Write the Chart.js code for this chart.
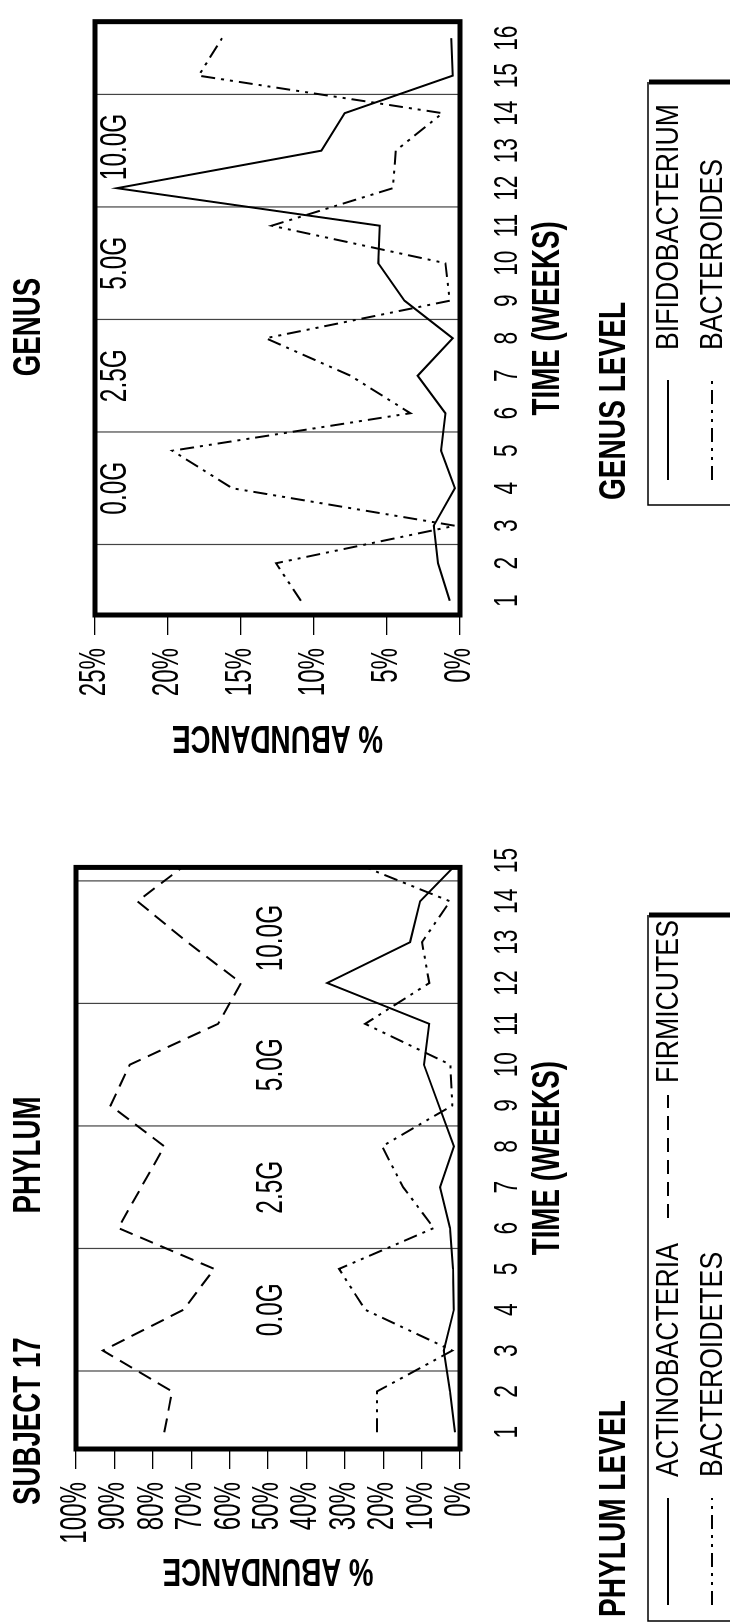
<!DOCTYPE html>
<html>
<head>
<meta charset="utf-8">
<script src="https://cdn.jsdelivr.net/npm/chart.js@4.4.1/dist/chart.umd.min.js"></script>
<style>
html, body { margin: 0; padding: 0; background: #fff; overflow: hidden; }
/* the figure is laid out landscape and turned a quarter turn, like the printed sheet */
#sheet { position: absolute; left: 0; top: 0; width: 1623px; height: 730px; background: #fff;
         transform-origin: 0 0; transform: rotate(-90deg) translateX(-1623px); }
#phylumCanvas { position: absolute; left: 0; top: 0; }
#genusCanvas { position: absolute; left: 840px; top: 0; }
</style>
</head>
<body>
<div id="sheet">
  <canvas id="phylumCanvas" width="800" height="730"></canvas>
  <canvas id="genusCanvas" width="783" height="730"></canvas>
</div>
<script>
// DATA
const phylumWeeks = [1, 2, 3, 4, 5, 6, 7, 8, 9, 10, 11, 12, 13, 14, 15];
const actinobacteria = [1.3, 2.6, 4.2, 1.6, 1.8, 2.6, 5.2, 1.6, 5.5, 9.4, 8, 34.6, 13, 10.4, 0];
const firmicutes = [77, 75, 93, 72, 64, 89, 83, 77, 91, 86, 63, 57, 71, 84, 70];
const bacteroidetes = [21.6, 21.6, 2, 24.7, 31.5, 6.8, 14.8, 20.3, 2, 2.5, 24.7, 8, 9.9, 2.6, 29];

const genusWeeks = [1, 2, 3, 4, 5, 6, 7, 8, 9, 10, 11, 12, 13, 14, 15, 16];
const bifidobacterium = [0.7, 1.5, 1.8, 0.35, 1.3, 1.0, 2.9, 0.5, 3.8, 5.6, 5.5, 23.5, 9.5, 7.9, 0.5, 0.6];
const bacteroides = [10.9, 12.6, 0.35, 15.6, 19.7, 3.4, 7.5, 13.3, 0.7, 1.0, 12.9, 4.6, 4.4, 1.2, 17.9, 16.3];

const phylumPctTicks = [0, 10, 20, 30, 40, 50, 60, 70, 80, 90, 100];
const genusPctTicks = [0, 5, 10, 15, 20, 25];

const phaseLabels = ["0.0G", "2.5G", "5.0G", "10.0G"];
const phaseCentres = [4, 7, 10, 13.1];
const phaseBreaks = [2.5, 5.5, 8.5, 11.5, 14.5];

const SOLID = [];
const DASHED = [14, 8];
const DASH_DOT_DOT = [14, 6, 3, 6, 3, 6];

Chart.defaults.font.family = '"Liberation Sans", Arial, sans-serif';
Chart.defaults.color = "#000";

// the print uses a narrow face: squeeze every text run along its own baseline
function condense(canvas){
  const ctx = canvas.getContext("2d");
  const raw = ctx.fillText.bind(ctx);
  ctx.squeeze = 0;
  ctx.fillText = function(text, x, y){
    const k = this.squeeze || (/bold|700/.test(this.font) ? 0.73 : 0.67);
    this.save();
    this.translate(x, y);
    this.scale(k, 1);
    raw(text, 0, 0);
    this.restore();
  };
}

function txt(ctx, s, x, y, font, k, align){
  ctx.font = font;
  ctx.textAlign = align || "left";
  ctx.textBaseline = "middle";
  ctx.squeeze = k;
  ctx.fillText(s, x, y);
  ctx.squeeze = 0;
}

// per chart decoration: titles, phase bands, frame and boxed legend
const decor = {
  phylumCanvas: {
    level: 49,
    titles: [
      {text: "SUBJECT 17", x: 118, align: "left"},
      {text: "PHYLUM", x: 468, align: "center"}
    ],
    legendTitle: {text: "PHYLUM LEVEL", x: 6},
    box: {left: 2, right: 708, top: 648},
    rows: [
      {ds: 0, x0: 18, x1: 125, tx: 146, y: 668},
      {ds: 1, x0: 405, x1: 528, tx: 540, y: 668},
      {ds: 2, x0: 18, x1: 125, tx: 146, y: 712}
    ]
  },
  genusCanvas: {
    level: 23.6,
    titles: [
      {text: "GENUS", x: 456, align: "center"}
    ],
    legendTitle: {text: "GENUS LEVEL", x: 283},
    box: {left: 278, right: 701, top: 648},
    rows: [
      {ds: 0, x0: 303, x1: 403, tx: 433, y: 668},
      {ds: 1, x0: 303, x1: 403, tx: 433, y: 712}
    ]
  }
};

const figurePlugin = {
  id: "figure",
  beforeDatasetsDraw(chart){
    const d = decor[chart.canvas.id];
    const {ctx, chartArea: a, scales: {x, y}} = chart;
    ctx.save();
    ctx.strokeStyle = "#444";
    ctx.lineWidth = 1.2;
    phaseBreaks.forEach(b => {
      const px = x.getPixelForValue(b);
      ctx.beginPath();
      ctx.moveTo(px, a.top);
      ctx.lineTo(px, a.bottom);
      ctx.stroke();
    });
    ctx.fillStyle = "#000";
    phaseLabels.forEach((t, i) => {
      txt(ctx, t, x.getPixelForValue(phaseCentres[i]), y.getPixelForValue(d.level),
          '37px "Liberation Sans"', 0.66, "center");
    });
    ctx.restore();
  },
  afterDatasetsDraw(chart){
    const {ctx, chartArea: a} = chart;
    ctx.save();
    ctx.strokeStyle = "#000";
    ctx.lineWidth = 5;
    ctx.lineJoin = "miter";
    ctx.strokeRect(a.left, a.top, a.right - a.left, a.bottom - a.top);
    ctx.restore();
  },
  afterDraw(chart){
    const d = decor[chart.canvas.id];
    const ctx = chart.ctx;
    ctx.save();
    ctx.fillStyle = "#000";
    ctx.strokeStyle = "#000";
    d.titles.forEach(t => txt(ctx, t.text, t.x, 29, 'bold 39px "Liberation Sans"', 0.71, t.align));
    txt(ctx, d.legendTitle.text, d.legendTitle.x, 615, 'bold 36px "Liberation Sans"', 0.78, "left");

    // legend box, heavier edge on the far side
    const b = d.box;
    ctx.lineWidth = 1.5;
    ctx.beginPath();
    ctx.moveTo(b.left, 740);
    ctx.lineTo(b.left, b.top);
    ctx.lineTo(b.right, b.top);
    ctx.stroke();
    ctx.lineWidth = 5;
    ctx.beginPath();
    ctx.moveTo(b.right, b.top + 1);
    ctx.lineTo(b.right, 740);
    ctx.stroke();

    d.rows.forEach(r => {
      const ds = chart.data.datasets[r.ds];
      ctx.lineWidth = 2;
      ctx.setLineDash(ds.borderDash || []);
      ctx.beginPath();
      ctx.moveTo(r.x0, r.y);
      ctx.lineTo(r.x1, r.y);
      ctx.stroke();
      ctx.setLineDash([]);
      txt(ctx, ds.label, r.tx, r.y + 1, '31px "Liberation Sans"', 0.86, "left");
    });
    ctx.restore();
  }
};

function series(label, weeks, values, dash){
  return {
    label: label,
    data: weeks.map((w, i) => ({x: w, y: values[i]})),
    borderColor: "#000",
    backgroundColor: "#000",
    borderWidth: 2,
    borderDash: dash,
    pointRadius: 0,
    tension: 0,
    fill: false
  };
}

function buildChart(canvasId, datasets, weeks, pctTicks, xr, yMax, area, yTitlePad){
  const canvas = document.getElementById(canvasId);
  condense(canvas);
  return new Chart(canvas, {
    type: "line",
    data: {datasets: datasets},
    options: {
      responsive: false,
      animation: false,
      layout: {padding: {left: 0, right: canvas.width - area.right, top: area.top, bottom: 730 - area.bottom - 120}},
      plugins: {legend: {display: false}, tooltip: {enabled: false}},
      scales: {
        x: {
          type: "linear", min: xr[0], max: xr[1],
          afterBuildTicks: s => { s.ticks = weeks.map(v => ({value: v})); },
          afterFit: s => { s.height = 120; },
          grid: {display: false},
          border: {display: false},
          ticks: {autoSkip: false, maxRotation: 0, padding: 19, font: {size: 34}, callback: v => String(v)},
          title: {display: true, text: "TIME (WEEKS)", font: {size: 38, weight: "bold"}, padding: {top: 0, bottom: 9}}
        },
        y: {
          min: 0, max: yMax,
          afterBuildTicks: s => { s.ticks = pctTicks.map(v => ({value: v})); },
          afterFit: s => { s.width = area.left; },
          grid: {display: true, drawOnChartArea: false, drawTicks: true, tickLength: 20, color: "#000", lineWidth: 1.3},
          border: {display: false},
          ticks: {autoSkip: false, padding: 13, font: {size: 36}, callback: v => v + "%"},
          title: {display: true, text: "% ABUNDANCE", font: {size: 38, weight: "bold"}, padding: {top: yTitlePad, bottom: 0}}
        }
      }
    },
    plugins: [figurePlugin]
  });
}

buildChart("phylumCanvas", [
  series("ACTINOBACTERIA", phylumWeeks, actinobacteria, SOLID),
  series("FIRMICUTES", phylumWeeks, firmicutes, DASHED),
  series("BACTEROIDETES", phylumWeeks, bacteroidetes, DASH_DOT_DOT)
], phylumWeeks, phylumPctTicks, [0.59, 14.83], 100, {left: 174, right: 763, top: 76, bottom: 460}, 31);

buildChart("genusCanvas", [
  series("BIFIDOBACTERIUM", genusWeeks, bifidobacterium, SOLID),
  series("BACTEROIDES", genusWeeks, bacteroides, DASH_DOT_DOT)
], genusWeeks, genusPctTicks, [0.62, 16.44], 25, {left: 168, right: 774, top: 95, bottom: 460}, 24);
</script>
</body>
</html>
